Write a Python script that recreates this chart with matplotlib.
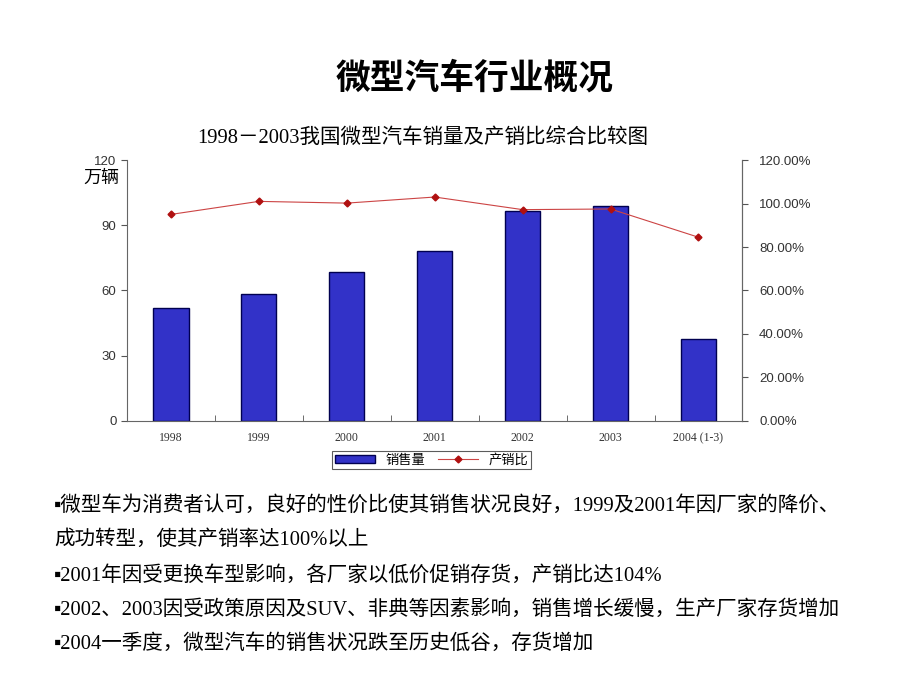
import matplotlib
matplotlib.use('Agg')
from matplotlib import pyplot as plt
from matplotlib.ticker import FuncFormatter
from matplotlib.lines import Line2D
from matplotlib.patches import Patch

plt.rcParams['font.family'] = ['Liberation Sans', 'Noto Sans CJK SC', 'DejaVu Sans']

# Data
years: [str] = ['1998', '1999', '2000', '2001', '2002', '2003', '2004 (1-3)']
sales: [float] = [52, 58.5, 68.5, 78, 96.5, 99, 37.5]
ratio: [float] = [0.95, 1.01, 1.002, 1.03, 0.972, 0.975, 0.845]

y_ticks: [int] = [0, 30, 60, 90, 120]
pct_ticks: [float] = [0, 0.2, 0.4, 0.6, 0.8, 1.0, 1.2]

bullets: [str] = [
    '▪微型车为消费者认可，良好的性价比使其销售状况良好，1999及2001年因厂家的降价、',
    '成功转型，使其产销率达100%以上',
    '▪2001年因受更换车型影响，各厂家以低价促销存货，产销比达104%',
    '▪2002、2003因受政策原因及SUV、非典等因素影响，销售增长缓慢，生产厂家存货增加',
    '▪2004一季度，微型汽车的销售状况跌至历史低谷，存货增加',
]

serif = ['Liberation Serif', 'Noto Sans CJK SC']
bar_color = '#3232c8'
line_color = '#cc4444'

fig = plt.figure(figsize=(9.2, 6.9), dpi=100)

fig.text(0.516, 0.887, '微型汽车行业概况', ha='center', va='center',
         fontsize=25, fontweight='bold', family=['Noto Sans CJK SC'])
fig.text(0.46, 0.8, '1998－2003我国微型汽车销量及产销比综合比较图', ha='center',
         va='center', fontsize=14.8, family=serif)

ax = fig.add_axes([0.138, 0.39, 0.669, 0.378])
x = list(range(len(years)))
ax.bar(x, sales, width=0.4, color=bar_color, edgecolor='#000050', linewidth=1)
ax.set_xlim(-0.5, len(years) - 0.5)
ax.set_ylim(0, 120)
ax.set_yticks(y_ticks)
ax.set_xticks(x)
ax.set_xticklabels(years, family=serif, fontsize=8.5, color='#333333')
ax.set_xticks([i + 0.5 for i in x[:-1]], minor=True)
ax.tick_params(axis='x', which='major', length=0, pad=8)
ax.tick_params(axis='x', which='minor', length=4, direction='in', color='#555555')
ax.tick_params(axis='y', length=4, color='#555555', labelsize=9.5, labelcolor='#333333')
ax.spines['top'].set_visible(False)
for side in ['left', 'bottom', 'right']:
    ax.spines[side].set_color('#666666')
    ax.spines[side].set_linewidth(0.8)

ax2 = ax.twinx()
ax2.plot(x, ratio, color=line_color, linewidth=0.8, marker='D', markersize=3.5,
         markerfacecolor='#b01010', markeredgecolor='#b01010')
ax2.set_ylim(0, 1.2)
ax2.set_yticks(pct_ticks)
ax2.yaxis.set_major_formatter(FuncFormatter(lambda v, p: '%.2f%%' % (v * 100)))
ax2.tick_params(axis='y', length=4, color='#555555', labelsize=9.5, labelcolor='#333333', pad=8)
ax2.spines['top'].set_visible(False)
ax2.spines['right'].set_color('#666666')
ax2.spines['left'].set_visible(False)
ax2.spines['bottom'].set_visible(False)

fig.text(0.13, 0.742, '万辆', ha='right', va='center', fontsize=13,
         family=serif)

handles = [Patch(facecolor=bar_color, edgecolor='#000050'),
           Line2D([0], [0], color=line_color, lw=0.8, marker='D', markersize=3.5,
                  markerfacecolor='#b01010', markeredgecolor='#b01010')]
leg = fig.legend(handles, ['销售量', '产销比'], loc='center', bbox_to_anchor=(0.469, 0.333),
                 ncol=2, frameon=True, fancybox=False, handlelength=3,
                 handleheight=0.6, borderpad=0.2, columnspacing=1.0,
                 prop={'family': serif, 'size': 9.5})
leg.get_frame().set_edgecolor('#333333')
leg.get_frame().set_linewidth(0.8)

ys = [0.267, 0.217, 0.166, 0.116, 0.066]
for line, yy in zip(bullets, ys):
    fig.text(0.059, yy, line, ha='left', va='center', fontsize=14.8, family=serif)

plt.savefig('out.png', dpi=100)
